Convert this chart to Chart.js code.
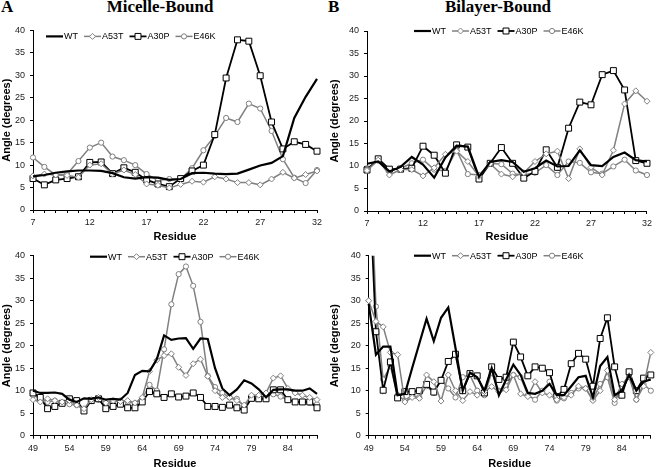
<!DOCTYPE html>
<html>
<head>
<meta charset="utf-8">
<script src="https://cdn.jsdelivr.net/npm/chart.js@4.4.0/dist/chart.umd.min.js"></script>
<style>
  body { margin: 0; width: 656px; height: 467px; overflow: hidden; background: #fff; position: relative; }
  canvas { position: absolute; }
  .title { position: absolute; font-family: "Liberation Serif", "Times New Roman", serif; font-weight: bold; font-size: 17px; line-height: 17px; color: #000; white-space: nowrap; }
</style>
</head>
<body>
<div class="title" style="left:1px; top:-2px">A</div>
<div class="title" style="left:160px; top:-2px; transform:translateX(-50%)">Micelle-Bound</div>
<div class="title" style="left:328px; top:-2px">B</div>
<div class="title" style="left:498px; top:-2px; transform:translateX(-50%)">Bilayer-Bound</div>

<canvas id="micelleN" width="328" height="224" style="left:0px; top:20px"></canvas>
<canvas id="bilayerN" width="328" height="224" style="left:328px; top:20px"></canvas>
<canvas id="micelleC" width="328" height="227" style="left:0px; top:244px"></canvas>
<canvas id="bilayerC" width="328" height="227" style="left:328px; top:244px"></canvas>

<script>
// residue numbers on the x axis
const residuesN = [7,8,9,10,11,12,13,14,15,16,17,18,19,20,21,22,23,24,25,26,27,28,29,30,31,32];
const residuesC = [49,50,51,52,53,54,55,56,57,58,59,60,61,62,63,64,65,66,67,68,
                   69,70,71,72,73,74,75,76,77,78,79,80,81,82,83,84,85,86,87,88];
const seriesNames = ['WT', 'A53T', 'A30P', 'E46K'];

// A, residues 7-32 (micelle)
const micWT_N   = [7.5,7.8,8.3,8.6,8.8,8.8,8.7,8.2,7.3,7.0,7.3,7.2,6.7,6.9,8.2,8.3,8.1,8.0,8.1,9.0,9.9,10.5,12.0,20.5,25.2,29.2];
const micA53T_N = [7.6,8.0,7.8,7.7,7.3,10.0,10.3,8.0,8.9,7.9,5.8,5.5,4.9,5.7,6.4,6.2,7.4,6.9,6.1,6.1,5.6,6.9,8.4,7.1,7.9,8.7];
const micA30P_N = [7.0,5.6,6.7,7.0,7.4,10.6,10.7,8.1,9.4,8.4,6.7,5.8,5.2,7.0,8.7,10.0,16.8,29.4,37.9,37.6,29.9,19.6,13.6,15.2,14.6,13.1];
const micE46K_N = [11.7,9.6,7.8,8.0,10.9,13.9,15.0,11.9,11.1,10.0,8.0,6.6,6.9,6.9,9.3,13.3,16.5,20.5,19.6,23.7,22.6,17.6,11.3,7.2,6.0,8.9];

// B, residues 7-32 (bilayer)
const bilWT_N   = [10.5,11.0,8.8,9.8,12.0,10.3,7.4,11.9,14.5,14.3,7.6,10.9,11.3,10.9,8.7,9.5,11.2,9.9,10.0,13.5,10.2,10.0,12.0,13.0,11.3,11.0];
const bilA53T_N = [9.0,11.3,8.0,9.2,9.2,7.8,9.6,12.6,13.3,11.0,7.7,10.5,8.2,7.6,8.5,11.0,12.7,13.3,7.2,13.8,9.7,8.0,13.5,23.8,26.7,24.4];
const bilA30P_N = [9.1,11.6,9.3,9.3,9.5,14.4,12.4,8.4,14.7,14.2,7.1,10.6,14.1,10.6,7.3,8.8,13.6,9.7,18.4,24.2,23.6,30.3,31.2,26.9,11.2,10.6];
const bilE46K_N = [9.5,11.2,9.0,9.5,10.6,11.4,9.2,8.9,13.5,8.2,8.0,10.6,10.4,8.3,8.0,8.5,10.2,8.0,11.0,10.7,8.6,8.3,9.9,11.4,9.0,8.0];

// A, residues 49-88 (micelle)
const micWT_C   = [10.0,9.5,9.5,9.6,9.3,8.0,7.5,8.3,8.2,8.5,8.0,8.2,8.0,9.5,13.5,14.4,14.3,17.0,22.3,21.3,
                   21.6,21.7,19.3,21.6,21.5,15.0,10.5,9.0,10.3,12.3,11.6,10.3,8.5,10.2,10.3,10.3,10.0,10.0,10.5,9.3];
const micA53T_C = [8.0,7.5,8.2,7.8,7.5,7.8,6.8,6.0,8.0,8.5,7.3,7.8,7.6,7.8,7.3,8.5,14.3,16.8,17.8,18.2,
                   15.2,13.4,16.0,17.0,13.2,10.0,8.5,8.5,7.8,6.8,9.0,9.0,9.5,12.8,13.3,10.5,9.5,9.0,8.5,8.0];
const micA30P_C = [9.5,8.5,6.0,6.5,7.2,8.2,7.8,5.5,7.8,8.2,6.0,6.5,7.0,6.2,6.2,7.5,9.8,9.3,8.5,9.3,
                   8.6,8.8,9.5,8.5,6.5,6.5,6.3,6.8,6.2,5.7,8.3,8.2,8.2,10.2,10.2,8.0,7.5,7.5,7.5,6.2];
const micE46K_C = [9.0,8.3,7.5,7.8,7.2,7.0,6.8,5.8,7.9,8.0,7.0,7.6,7.8,7.5,7.2,8.2,11.3,10.0,19.2,29.2,
                   35.9,37.6,33.3,25.3,13.3,10.8,9.5,8.5,8.2,6.5,8.5,8.3,8.8,9.2,8.7,7.9,7.5,7.5,7.3,7.0];

// B, residues 49-88 (bilayer)
const bilWT_C   = [29.3,18.0,19.8,19.8,9.0,9.3,15.0,20.5,26.0,21.0,26.2,28.5,19.5,10.0,14.0,13.0,10.0,15.0,9.0,12.5,
                   15.8,13.5,9.5,9.3,10.0,11.5,9.0,9.0,11.0,13.0,13.3,8.5,15.5,17.5,9.0,10.0,13.5,10.0,12.0,12.5];
const bilA53T_C = [30.0,25.4,24.2,18.5,18.0,7.5,8.5,8.3,13.5,12.0,7.7,13.5,10.0,7.8,9.8,9.0,9.8,10.9,9.8,10.2,
                   13.5,9.3,8.7,12.0,9.5,9.0,8.0,8.5,9.0,11.0,10.5,7.8,10.0,14.5,8.0,11.5,13.0,8.0,11.0,18.5];
const bilA30P_C = [60.0,23.1,10.1,16.4,8.4,9.8,9.8,10.0,11.4,9.7,12.3,16.5,18.1,10.0,13.8,13.3,9.5,15.3,12.5,13.0,
                   20.8,17.5,13.3,15.3,15.0,14.0,8.7,10.3,16.0,18.3,17.0,11.0,21.6,26.2,15.3,9.0,14.2,10.0,12.8,13.5];
const bilE46K_C = [70.0,28.7,12.5,15.5,9.0,7.8,9.0,8.5,11.0,9.5,12.5,10.5,8.5,13.0,13.5,10.0,9.0,14.0,10.0,11.0,
                   13.5,13.0,9.0,8.0,10.0,12.0,7.8,8.3,9.5,10.5,10.5,8.0,11.5,13.0,7.3,11.0,13.5,8.0,11.5,10.0];

const GRAY = '#808080';
const FONT = '"Liberation Sans", Arial, sans-serif';

function drawMarker(ctx, style, x, y, r, color) {
  ctx.save();
  ctx.fillStyle = '#fff';
  ctx.strokeStyle = color;
  ctx.lineWidth = 1;
  ctx.beginPath();
  if (style === 'rect') {
    const s = r * Math.SQRT1_2;
    ctx.rect(x - s, y - s, 2 * s, 2 * s);
  } else if (style === 'rectRot') {
    ctx.moveTo(x, y - r); ctx.lineTo(x + r, y); ctx.lineTo(x, y + r); ctx.lineTo(x - r, y); ctx.closePath();
  } else {
    ctx.arc(x, y, r, 0, Math.PI * 2);
  }
  ctx.fill();
  ctx.stroke();
  ctx.restore();
}

// legend drawn inside the plot area, like the Excel original
const innerLegend = {
  id: 'innerLegend',
  afterDraw(chart, args, opts) {
    const ctx = chart.ctx;
    let x = opts.x;
    const y = chart.chartArea.top + opts.dy;
    ctx.save();
    ctx.font = '9px ' + FONT;
    ctx.textBaseline = 'middle';
    chart.data.datasets.forEach(ds => {
      ctx.strokeStyle = ds.borderColor;
      ctx.lineWidth = ds.borderWidth;
      ctx.beginPath(); ctx.moveTo(x, y); ctx.lineTo(x + 17, y); ctx.stroke();
      if (ds.pointRadius > 0) drawMarker(ctx, ds.pointStyle, x + 8.5, y, ds.pointRadius, ds.pointBorderColor);
      ctx.fillStyle = '#000';
      ctx.fillText(ds.label, x + 18, y + 0.5);
      x += 18 + ctx.measureText(ds.label).width + 6;
    });
    ctx.restore();
  }
};

function makeChart(p, labels, wt, a53t, a30p, e46k) {
  const clip = {left: 6, top: 0, right: 6, bottom: 6};
  new Chart(document.getElementById(p.id), {
    type: 'line',
    data: {
      labels: labels,
      datasets: [
        {label: seriesNames[0], data: wt, borderColor: '#000', borderWidth: 2.2, pointRadius: 0, clip: clip},
        {label: seriesNames[1], data: a53t, borderColor: GRAY, borderWidth: 1.5, pointStyle: 'rectRot', pointRadius: 3,
         pointBackgroundColor: '#fff', pointBorderColor: GRAY, pointBorderWidth: 1, clip: clip},
        {label: seriesNames[2], data: a30p, borderColor: '#000', borderWidth: 1.8, pointStyle: 'rect', pointRadius: 4.2,
         pointBackgroundColor: '#fff', pointBorderColor: '#000', pointBorderWidth: 1, clip: clip},
        {label: seriesNames[3], data: e46k, borderColor: GRAY, borderWidth: 1.5, pointStyle: 'circle', pointRadius: 2.6,
         pointBackgroundColor: '#fff', pointBorderColor: GRAY, pointBorderWidth: 1, clip: clip}
      ]
    },
    options: {
      responsive: false,
      animation: false,
      layout: {padding: {top: p.padTop, right: p.padRight, left: 0, bottom: 0}},
      plugins: {
        legend: {display: false},
        tooltip: {enabled: false},
        innerLegend: {x: p.legX, dy: p.legDy}
      },
      scales: {
        x: {
          type: 'category',
          offset: false,
          grid: {drawOnChartArea: false, tickLength: 3, color: '#000'},
          border: {color: '#000', width: 1},
          ticks: {
            autoSkip: false, maxRotation: 0, padding: 4, color: '#222',
            font: {family: FONT, size: 9},
            callback: (v, i) => (i % 5 === 0 ? labels[i] : '')
          },
          title: {display: true, text: 'Residue', color: '#000', padding: 0,
                  font: {family: FONT, size: 11, weight: 'bold'}},
          afterFit: s => { s.height = p.xH; }
        },
        y: {
          min: 0, max: 40,
          grid: {drawOnChartArea: false, tickLength: 3, color: '#000'},
          border: {color: '#000', width: 1},
          ticks: {stepSize: 5, padding: 5, color: '#222', font: {family: FONT, size: 9}},
          title: {display: true, text: 'Angle (degrees)', color: '#000', padding: 0,
                  font: {family: FONT, size: 11, weight: 'bold'}},
          afterFit: s => { s.width = p.yW; }
        }
      }
    },
    plugins: [innerLegend]
  });
}

makeChart({id: 'micelleN', padTop: 10, padRight: 11, yW: 33, xH: 34, legX: 46, legDy: 6},
          residuesN, micWT_N, micA53T_N, micA30P_N, micE46K_N);
makeChart({id: 'bilayerN', padTop: 11, padRight: 5, yW: 39, xH: 33, legX: 86, legDy: 0},
          residuesN, bilWT_N, bilA53T_N, bilA30P_N, bilE46K_N);
makeChart({id: 'micelleC', padTop: 11.7, padRight: 11, yW: 33, xH: 35.3, legX: 90, legDy: 1},
          residuesC, micWT_C, micA53T_C, micA30P_C, micE46K_C);
makeChart({id: 'bilayerC', padTop: 11.7, padRight: 3.3, yW: 40.7, xH: 35.3, legX: 86, legDy: 0},
          residuesC, bilWT_C, bilA53T_C, bilA30P_C, bilE46K_C);
</script>
</body>
</html>
